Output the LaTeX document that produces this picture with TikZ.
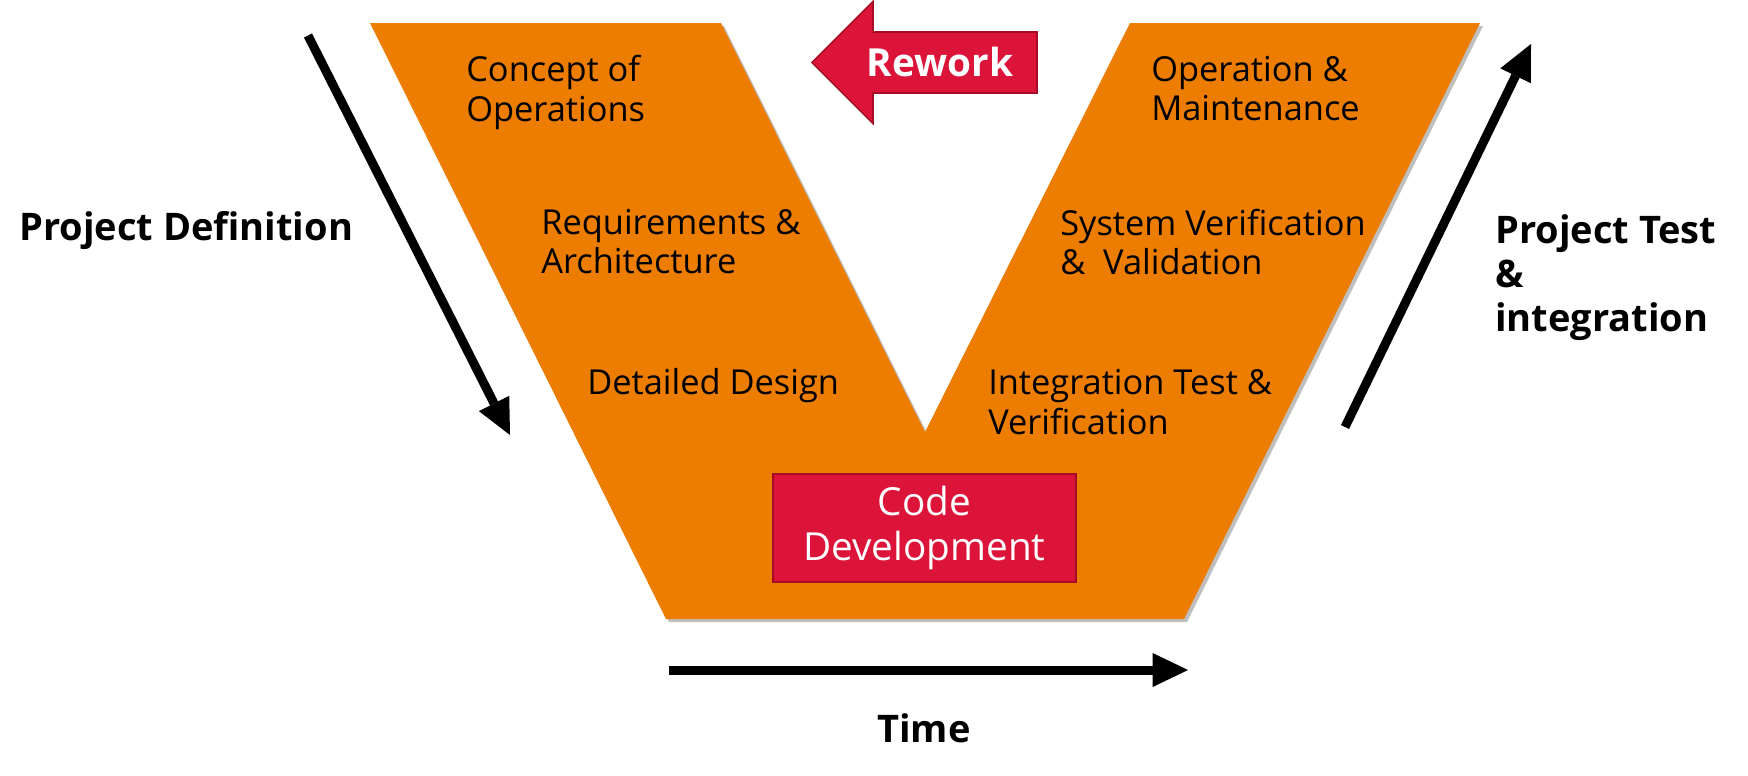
\documentclass[tikz,border=0pt]{standalone}
\usepackage{fontspec}
\setmainfont{Open Sans}
\usetikzlibrary{arrows.meta,shadows}

\definecolor{vorange}{RGB}{237,125,0}
\definecolor{vred}{RGB}{220,20,58}
\definecolor{vredline}{RGB}{165,12,38}

\begin{document}
\begin{tikzpicture}[x=0.75pt,y=0.75pt,yscale=-1,xscale=1,
	phase/.style={anchor=west,inner sep=0pt,align=left,font=\fontsize{25.8pt}{29.8pt}\selectfont},
	side/.style={anchor=west,inner sep=0pt,align=left,font=\fontsize{28.5pt}{33pt}\selectfont\bfseries},
	flow/.style={line width=6.75pt,-{Triangle[length=26.5pt,width=25.5pt,line width=0pt]}},
	redbox/.style={fill=vred,draw=vredline,line width=1.5pt}]
				%set diagram size 1748 x 775
				\useasboundingbox (0,0) rectangle (1748,775);

				%Shape: V [id:vshape]
				\draw [draw=none,fill=vorange,drop shadow={shadow xshift=2.25pt,shadow yshift=-2.25pt,opacity=0.25,fill=black}]  (370,23) -- (721,23) -- (925,432) -- (1130,23) -- (1480,23) -- (1184,619) -- (666,619) -- cycle ;

				%Shape: Left Arrow [id:rework]
				\draw [redbox,line width=1.2pt]  (812,62.5) -- (873,1.5) -- (873,32) -- (1037,32) -- (1037,93) -- (873,93) -- (873,123.5) -- cycle ;

				%Straight Lines [id:definition]
				\coordinate (defA) at (308,35.5) ;
				\coordinate (defB) at (510,435) ;
				\draw [flow]  (defA) -- (defB) ;
				%Straight Lines [id:testing]
				\coordinate (testA) at (1345,427) ;
				\coordinate (testB) at (1531,44) ;
				\draw [flow]  (testA) -- (testB) ;
				%Straight Lines [id:time]
				\coordinate (timeA) at (669,670) ;
				\coordinate (timeB) at (1188,670) ;
				\draw [flow]  (timeA) -- (timeB) ;

				% Text Node
				\node [phase] (concept) at (466,92.5) {Concept of\\Operations};
				% Text Node
				\node [phase] (require) at (541,241.5) {Requirements \&\\Architecture};
				% Text Node
				\node [phase] (design) at (587,386) {Detailed Design};
				% Text Node
				\node [phase] (operate) at (1151,88.5) {Operation \&\\Maintenance};
				% Text Node
				\node [phase] (system) at (1060,242) {System Verification\\\&\ \ Validation};
				% Text Node
				\node [phase] (integrate) at (988,402) {Integration Test \&\\Verification};
				% Text Node
				\node [redbox,minimum width=227.25pt,minimum height=81pt,inner sep=0pt,align=center,text=white,font=\fontsize{29pt}{34pt}\selectfont] (code) at (924.5,528) {Code\\Development};
				% Text Node
				\node [inner sep=0pt,text=white,font=\fontsize{29pt}{33pt}\selectfont\bfseries] (reworktext) at (940,62) {Rework};
				% Text Node
				\node [side] (projdef) at (19,231) {Project Definition};
				% Text Node
				\node [side] (projtest) at (1495,278) {Project Test\\\&\\integration};
				% Text Node
				\node [inner sep=0pt,font=\fontsize{28.5pt}{33pt}\selectfont\bfseries] (time) at (924,728) {Time};

\end{tikzpicture}
\end{document}
